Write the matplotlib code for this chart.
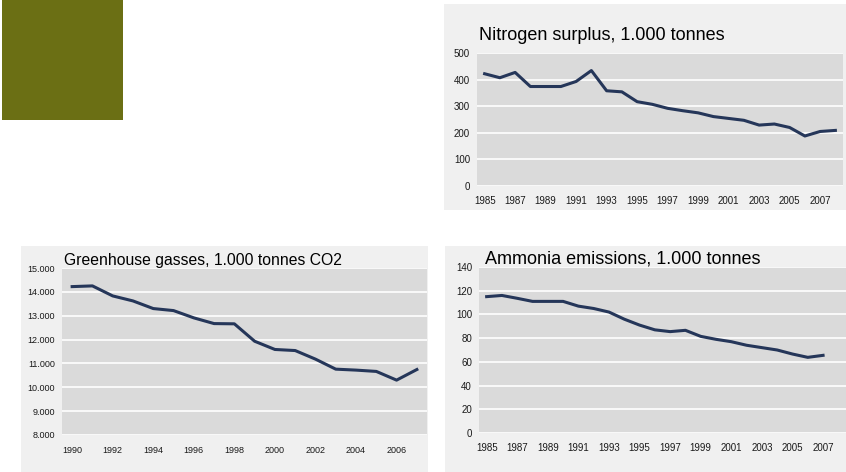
import numpy as np
import matplotlib.pyplot as plt
from matplotlib.patches import Rectangle
from matplotlib.ticker import FuncFormatter

plt.rcParams['font.family'] = ['Liberation Sans', 'DejaVu Sans']

# --- data ---
nitrogen_years = list(range(1985, 2009))
nitrogen_values = [422, 407, 427, 374, 374, 374, 393, 434, 358, 354, 317, 307,
                   292, 283, 275, 261, 254, 247, 229, 233, 220, 188, 205, 209]

ghg_years = list(range(1990, 2008))
ghg_values = [14220, 14250, 13830, 13620, 13300, 13215, 12910, 12670, 12660,
              11930, 11585, 11540, 11180, 10760, 10720, 10665, 10300, 10745]

ammonia_years = list(range(1985, 2009))
ammonia_values = [115, 116, 113.6, 111, 111, 111, 107, 105, 102, 96, 91, 87,
                  85.5, 86.6, 81.5, 79, 77, 74, 72, 70, 66.6, 63.8, 65.5, np.nan]

W, H = 846, 472
LINE = '#253659'
PLOT_BG = '#dadada'
PANEL_BG = '#f0f0f0'
OLIVE = '#6b6f14'


def px_rect(x0, y0, x1, y1):
    """pixel box -> figure fraction [left, bottom, width, height]"""
    return [x0 / W, 1 - y1 / H, (x1 - x0) / W, (y1 - y0) / H]


def add_panel(fig, x0, y0, x1, y1, color):
    l, b, w, h = px_rect(x0, y0, x1, y1)
    fig.patches.append(Rectangle((l, b), w, h, transform=fig.transFigure,
                                 facecolor=color, edgecolor='none', zorder=-10))


def line_chart(fig, box, years, values, ylim, ystep, xlabel_step, yfmt=None):
    ax = fig.add_axes(px_rect(*box))
    x = np.arange(len(years))
    ax.set_facecolor(PLOT_BG)
    ax.plot(x, values, color=LINE, lw=2.2, solid_joinstyle='round', zorder=3)
    ax.set_xlim(-0.5, len(years) - 0.5)
    ax.set_ylim(*ylim)
    ax.set_yticks(np.arange(ylim[0], ylim[1] + ystep / 2, ystep))
    ax.set_xticks(x[::xlabel_step])
    ax.set_xticklabels([str(y) for y in years[::xlabel_step]])
    ax.grid(axis='y', color='white', lw=1.2, zorder=1)
    ax.set_axisbelow(True)
    for s in ax.spines.values():
        s.set_visible(False)
    ax.tick_params(length=0, labelsize=7, colors='#1a1a1a')
    ax.tick_params(axis='y', pad=5)
    ax.tick_params(axis='x', pad=7)
    if yfmt is not None:
        ax.yaxis.set_major_formatter(FuncFormatter(yfmt))
    return ax


fig = plt.figure(figsize=(W / 100, H / 100), dpi=100)

# olive square top left
add_panel(fig, 2, 0, 123, 120, OLIVE)

# light panels behind each chart
add_panel(fig, 444, 4, 846, 210, PANEL_BG)
add_panel(fig, 21, 246, 428, 472, PANEL_BG)
add_panel(fig, 445, 246, 846, 472, PANEL_BG)

# Nitrogen surplus
ax1 = line_chart(fig, (477, 53, 843, 186), nitrogen_years, nitrogen_values,
                 (0, 500), 100, 2)
fig.text(479 / W, 1 - 36 / H, 'Nitrogen surplus, 1.000 tonnes',
         fontsize=13, va='center', ha='left')

# Greenhouse gasses
ax2 = line_chart(fig, (62, 268, 427, 435), ghg_years, ghg_values,
                 (8000, 15000), 1000, 2,
                 yfmt=lambda v, p: f'{int(v):,}'.replace(',', '.'))
ax2.tick_params(labelsize=6.5)
ax2.tick_params(axis='x', pad=8)
fig.text(64 / W, 1 - 261 / H, 'Greenhouse gasses, 1.000 tonnes CO2',
         fontsize=11.3, va='center', ha='left', zorder=5)

# Ammonia emissions
ax3 = line_chart(fig, (479, 267, 846, 433), ammonia_years, ammonia_values,
                 (0, 140), 20, 2)
fig.text(485 / W, 1 - 259 / H, 'Ammonia emissions, 1.000 tonnes',
         fontsize=13, va='center', ha='left', zorder=5)

fig.savefig('out.png', dpi=100)
